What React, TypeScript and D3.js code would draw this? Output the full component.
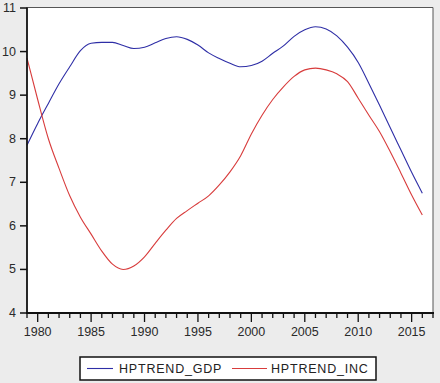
import React from "react";
import * as d3 from "d3";

const years: number[] = d3.range(1979, 2017);
const gdp: number[] = [
  7.85, 8.35, 8.81, 9.26, 9.65, 10.02, 10.19, 10.21, 10.21, 10.14,
  10.07, 10.1, 10.2, 10.3, 10.34, 10.28, 10.15, 9.97, 9.84, 9.73,
  9.65, 9.68, 9.78, 9.96, 10.13, 10.35, 10.5, 10.57, 10.52, 10.36,
  10.1, 9.75, 9.27, 8.77, 8.25, 7.74, 7.23, 6.75,
];
const inc: number[] = [
  9.85, 8.9, 8.0, 7.32, 6.69, 6.2, 5.81, 5.42, 5.12, 5.0,
  5.08, 5.29, 5.6, 5.9, 6.17, 6.35, 6.52, 6.69, 6.94, 7.24,
  7.61, 8.11, 8.54, 8.9, 9.19, 9.43, 9.58, 9.62, 9.58, 9.49,
  9.31, 8.93, 8.54, 8.16, 7.7, 7.21, 6.71, 6.25,
];
const yTicks: number[] = [4, 5, 6, 7, 8, 9, 10, 11];
const xMajor: number[] = [1980, 1985, 1990, 1995, 2000, 2005, 2010, 2015];
const xMinor: number[] = d3.range(1979, 2018);
const seriesNames: string[] = ["HPTREND_GDP", "HPTREND_INC"];
const seriesColors: string[] = ["#2e2ea6", "#d83c3c"];

const W = 440;
const H = 383;
const L = 27;
const R = 433;
const T = 7.5;
const B = 313;

export default function App() {
  const x = d3.scaleLinear().domain([1979, 2017]).range([L, R]);
  const y = d3.scaleLinear().domain([4, 11]).range([B, T + 0.5]);
  const line = d3
    .line<number>()
    .x((_, i) => x(years[i]))
    .y((d) => y(d))
    .curve(d3.curveMonotoneX);
  const series = [gdp, inc];
  const font = "'Liberation Sans', Arial, sans-serif";

  return (
    <svg
      width={W}
      height={H}
      style={{ position: "absolute", left: 0, top: 0, display: "block" }}
      fontFamily={font}
    >
      <rect x={0} y={0} width={W} height={H} fill="#ececec" />
      <rect x={L} y={T} width={R - L} height={B - T} fill="#ffffff" />
      <path d={`M${L},${T}H${R}V${B}`} fill="none" stroke="#555" strokeWidth={1} />
      {series.map((s, i) => (
        <path
          key={i}
          d={line(s) || ""}
          fill="none"
          stroke={seriesColors[i]}
          strokeWidth={1.1}
          strokeLinejoin="round"
        />
      ))}
      <line x1={L} x2={L} y1={T} y2={B + 1} stroke="#111" strokeWidth={1.8} />
      {yTicks.map((t) => (
        <g key={t}>
          <line x1={L - 7} x2={L} y1={y(t)} y2={y(t)} stroke="#111" strokeWidth={1.5} />
          <text
            x={16}
            y={y(t)}
            textAnchor="end"
            dominantBaseline="central"
            fontSize={12.5}
            fill="#2a2a2a"
          >
            {t}
          </text>
        </g>
      ))}
      <line x1={L - 1} x2={R + 1} y1={B} y2={B} stroke="#111" strokeWidth={1.8} />
      {xMinor.map((t) => (
        <line
          key={t}
          x1={x(t)}
          x2={x(t)}
          y1={B}
          y2={B + (t % 5 === 0 ? 9 : 5)}
          stroke="#111"
          strokeWidth={1.3}
        />
      ))}
      {xMajor.map((t) => (
        <text key={t} x={x(t)} y={336} textAnchor="middle" fontSize={12.5} fill="#2a2a2a">
          {t}
        </text>
      ))}
      <rect x={80} y={357} width={296} height={23} fill="#ffffff" stroke="#111" strokeWidth={1.5} />
      <line x1={87} x2={113} y1={368.5} y2={368.5} stroke={seriesColors[0]} strokeWidth={1.1} />
      <text x={119} y={373} fontSize={12.5} letterSpacing={0.8} fill="#222">
        {seriesNames[0]}
      </text>
      <line x1={232} x2={267} y1={368.5} y2={368.5} stroke={seriesColors[1]} strokeWidth={1.1} />
      <text x={271} y={373} fontSize={12.5} letterSpacing={0.8} fill="#222">
        {seriesNames[1]}
      </text>
    </svg>
  );
}
